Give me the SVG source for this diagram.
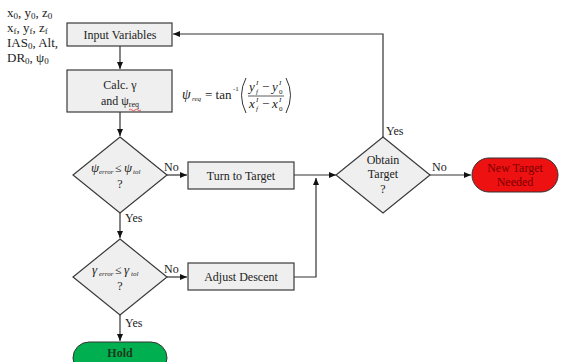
<svg xmlns="http://www.w3.org/2000/svg" width="561" height="362" viewBox="0 0 561 362">
<style>
text{font-family:"Liberation Serif","Times New Roman",serif;font-size:12px;fill:#222}
.box{fill:#efefef;stroke:#3a3a3a;stroke-width:1.2}
.c{text-anchor:middle}
.ln{fill:none;stroke:#333;stroke-width:1.2}
.it{font-style:italic}
.sm{font-size:8px}
.t6{font-size:7px}
.t13{font-size:13px}
.t14{font-size:14px}
.note{font-size:13px}
.note .sm{font-size:9px}
</style>
<defs>
<marker id="ah" markerWidth="8" markerHeight="8" refX="7" refY="4" orient="auto" markerUnits="userSpaceOnUse">
<path d="M0,1 L7,4 L0,7 Z" fill="#111"/>
</marker>
</defs>
<rect width="561" height="362" fill="#fff"/>

<g id="inputs-note">
<text class="note" x="7" y="17">x<tspan class="sm" dy="2">0</tspan><tspan dy="-2">, y</tspan><tspan class="sm" dy="2">0</tspan><tspan dy="-2">, z</tspan><tspan class="sm" dy="2">0</tspan></text>
<text class="note" x="7" y="32">x<tspan class="sm" dy="2">f</tspan><tspan dy="-2">, y</tspan><tspan class="sm" dy="2">f</tspan><tspan dy="-2">, z</tspan><tspan class="sm" dy="2">f</tspan></text>
<text class="note" x="7" y="47">IAS<tspan class="sm" dy="2">0</tspan><tspan dy="-2">, Alt,</tspan></text>
<text class="note" x="7" y="62">DR<tspan class="sm" dy="2">0</tspan><tspan dy="-2">, ψ</tspan><tspan class="sm" dy="2">0</tspan></text>
</g>

<g id="connectors">
<path class="ln" d="M120,46 V69" marker-end="url(#ah)"/>
<path class="ln" d="M120,112 V136" marker-end="url(#ah)"/>
<path class="ln" d="M167,175 H187" marker-end="url(#ah)"/>
<path class="ln" d="M294,175 H336" marker-end="url(#ah)"/>
<path class="ln" d="M120,213 V238" marker-end="url(#ah)"/>
<path class="ln" d="M167,277 H187" marker-end="url(#ah)"/>
<path class="ln" d="M294,277 H316 V178" marker-end="url(#ah)"/>
<path class="ln" d="M120,315 V341" marker-end="url(#ah)"/>
<path class="ln" d="M430,175 H471" marker-end="url(#ah)"/>
<path class="ln" d="M383,137 V34 H173" marker-end="url(#ah)"/>
<text x="164" y="171">No</text>
<text x="164" y="273">No</text>
<text x="432" y="171">No</text>
<text x="125" y="222">Yes</text>
<text x="125" y="327">Yes</text>
<text x="386" y="135">Yes</text>
</g>

<g id="input-variables">
<rect class="box" x="67" y="23" width="105" height="23"/>
<text class="c" x="120" y="39">Input Variables</text>
</g>

<g id="calc">
<rect class="box" x="67" y="70" width="105" height="42"/>
<text class="c" x="120" y="89">Calc. γ</text>
<text class="c" x="120" y="105">and ψ<tspan class="sm" dy="2">req</tspan></text>
<path d="M129,110 q1.5,-1.5 3,0 t3,0 t3,0 t3,0" fill="none" stroke="#e03030" stroke-width="0.8"/>
</g>

<g id="formula">
<text x="182" y="99" class="it t14">ψ</text>
<text x="192" y="101" class="it t6">req</text>
<text x="205" y="99" class="t13">= tan</text>
<text x="233" y="91" class="t6">-1</text>
<path d="M246,78 Q237,95 246,113" fill="none" stroke="#333" stroke-width="1"/>
<path d="M286,78 Q295,95 286,113" fill="none" stroke="#333" stroke-width="1"/>
<text x="249" y="91" class="it t13">y</text><text x="256" y="85" class="it t6">I</text><text x="256" y="94" class="it t6">f</text>
<text x="262" y="91" class="t13">−</text>
<text x="272" y="91" class="it t13">y</text><text x="279" y="85" class="it t6">I</text><text x="279" y="94" class="t6">0</text>
<line x1="248" y1="96" x2="284" y2="96" stroke="#333" stroke-width="0.8"/>
<text x="249" y="108" class="it t13">x</text><text x="256" y="102" class="it t6">I</text><text x="256" y="111" class="it t6">f</text>
<text x="262" y="108" class="t13">−</text>
<text x="272" y="108" class="it t13">x</text><text x="279" y="102" class="it t6">I</text><text x="279" y="111" class="t6">0</text>
</g>

<g id="heading-check">
<polygon class="box" points="120,137 167,175 120,213 73,175"/>
<text x="91" y="172" class="it t13">ψ</text><text x="99" y="174" class="it t6">error</text>
<text x="115" y="172">≤</text>
<text x="124" y="172" class="it t13">ψ</text><text x="133" y="174" class="it t6">tol</text>
<text class="c" x="120" y="188">?</text>
</g>

<g id="turn-to-target">
<rect class="box" x="188" y="162" width="106" height="27"/>
<text class="c" x="241" y="180">Turn to Target</text>
</g>

<g id="descent-check">
<polygon class="box" points="120,239 167,277 120,315 73,277"/>
<text x="92" y="274" class="it t13">γ</text><text x="99" y="276" class="it t6">error</text>
<text x="115" y="274">≤</text>
<text x="124" y="274" class="it t13">γ</text><text x="131" y="276" class="it t6">tol</text>
<text class="c" x="120" y="290">?</text>
</g>

<g id="adjust-descent">
<rect class="box" x="188" y="263" width="106" height="27"/>
<text class="c" x="241" y="281">Adjust Descent</text>
</g>

<g id="obtain-target">
<polygon class="box" points="383,137 430,175 383,213 336,175"/>
<text class="c" x="383" y="164">Obtain</text>
<text class="c" x="383" y="178">Target</text>
<text class="c" x="383" y="193">?</text>
</g>

<g id="new-target">
<rect x="472" y="158" width="86" height="34" rx="17" fill="#ee1111" stroke="#333" stroke-width="1"/>
<text class="c" x="515" y="172" style="fill:#7a0000">New Target</text>
<text class="c" x="515" y="186" style="fill:#7a0000">Needed</text>
</g>

<g id="hold">
<rect x="73" y="342" width="94" height="32" rx="16" fill="#00b050" stroke="#333" stroke-width="1"/>
<text class="c" x="120" y="357" font-weight="bold" style="fill:#1a3a1a">Hold</text>
</g>
</svg>
